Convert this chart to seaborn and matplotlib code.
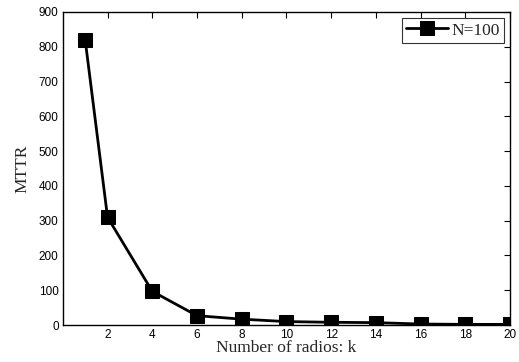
import matplotlib
matplotlib.use("Agg")
import matplotlib.pyplot as plt
import seaborn as sns
import pandas as pd

k_values = [1, 2, 4, 6, 8, 10, 12, 14, 16, 18, 20]
mttr_values = [820, 310, 97, 27, 17, 10, 8, 7, 3, 2, 2]
series_label = "N=100"
x_ticks = [2, 4, 6, 8, 10, 12, 14, 16, 18, 20]
y_ticks = [0, 100, 200, 300, 400, 500, 600, 700, 800, 900]

sns.set_style("white")
df = pd.DataFrame({"k": k_values, "MTTR": mttr_values, "series": series_label})

fig = plt.figure(figsize=(5.19, 3.62), dpi=100)
ax = fig.add_axes([0.121, 0.102, 0.862, 0.865])
sns.lineplot(data=df, x="k", y="MTTR", hue="series", palette=["black"],
             marker="s", markersize=10, linewidth=2, markeredgecolor="black",
             ax=ax)
ax.set_xlim(0, 20)
ax.set_ylim(0, 900)
ax.set_xticks(x_ticks)
ax.set_yticks(y_ticks)
for lab in ax.get_xticklabels() + ax.get_yticklabels():
    lab.set_fontfamily("Liberation Sans")
    lab.set_fontsize(8.5)
ax.tick_params(direction="in", top=True, right=True, length=4, width=0.8,
               colors="black", pad=3)
for s in ax.spines.values():
    s.set_color("black")
    s.set_linewidth(1.0)
ax.set_xlabel("Number of radios: k", fontfamily="Liberation Serif", fontsize=12.5, labelpad=-1)
ax.set_ylabel("MTTR", fontfamily="Liberation Serif", fontsize=12.5, labelpad=6)
leg = ax.legend(loc="upper right", prop={"family": "Liberation Serif", "size": 12.5},
                frameon=True, fancybox=False, edgecolor="black",
                handlelength=2.4, borderpad=0.25, borderaxespad=0.35, handletextpad=0.2)
leg.get_frame().set_linewidth(0.8)
fig.savefig("out.png", dpi=100)
